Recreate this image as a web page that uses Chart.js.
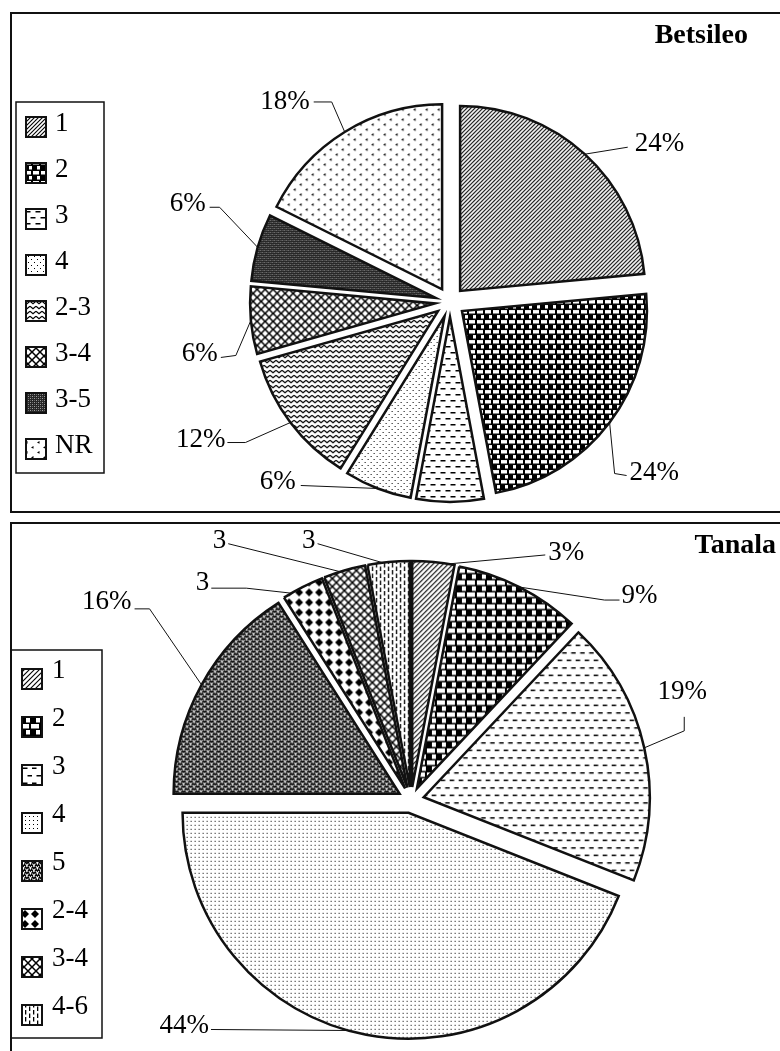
<!DOCTYPE html>
<html>
<head>
<meta charset="utf-8">
<script src="https://cdn.jsdelivr.net/npm/chart.js@4.4.1/dist/chart.umd.min.js"></script>
<style>
    html, body { margin: 0; padding: 0; background: #fff; }
    body { width: 780px; height: 1051px; position: relative; overflow: hidden; }
    .frame { position: absolute; border: 0 solid #111; }
    #frame-top { left: 10px; top: 12px; width: 780px; height: 497px; border-width: 2px 0 2px 2px; }
    #frame-bottom { left: 10px; top: 522px; width: 780px; height: 540px; border-width: 2px 0 0 2px; }
    canvas { position: absolute; left: 0; }
    #betsileo { top: 0; }
    #tanala { top: 519px; }
</style>
</head>
<body>
<div class="frame" id="frame-top"></div>
<div class="frame" id="frame-bottom"></div>
<canvas id="betsileo" width="780" height="512"></canvas>
<canvas id="tanala" width="780" height="532"></canvas>
<script>
// Betsileo
const betsileoCategories = ['1', '2', '3', '4', '2-3', '3-4', '3-5', 'NR'];
const betsileoValues = [24, 24, 6, 6, 12, 6, 6, 18];
const betsileoFillNames = ['hatch', 'brick', 'dash', 'dots', 'wave', 'cross', 'dark', 'chevron'];

// Tanala
const tanalaCategories = ['1', '2', '3', '4', '5', '2-4', '3-4', '4-6'];
const tanalaValues = [3, 9, 19, 44, 16, 3, 3, 3];
const tanalaSuffix = ['%', '%', '%', '%', '%', '', '', ''];
const tanalaFillNames = ['hatch', 'brick', 'dash', 'fineDots', 'squiggle', 'diamond', 'cross', 'vdash'];

const SERIF = '"Liberation Serif", "Times New Roman", serif';

// small repeating tiles, painted with wrap-around so the seams line up
function tile(w, h, paint) {
    const c = document.createElement('canvas');
    c.width = w;
    c.height = h;
    const g = c.getContext('2d');
    g.fillStyle = '#fff';
    g.fillRect(0, 0, w, h);
    for (const dx of [-w, 0, w]) {
        for (const dy of [-h, 0, h]) {
            g.save();
            g.translate(dx, dy);
            g.fillStyle = '#000';
            g.strokeStyle = '#000';
            paint(g);
            g.restore();
        }
    }
    return g.createPattern(c, 'repeat');
}

const patterns = {
    hatch: (s) => tile(s, s, g => {
        g.lineWidth = 1.1;
        g.beginPath(); g.moveTo(0, s); g.lineTo(s, 0); g.stroke();
    }),
    brick: (w, h) => tile(w, h, g => {
        g.fillRect(0, 0, w, h);
        g.fillStyle = '#fff';
        const bw = w - 2, bh = h / 2 - 1.5;
        g.fillRect(1, 1, bw, bh);
        g.fillRect(1 + w / 2, 1 + h / 2, bw, bh);
    }),
    dash: (w, h) => tile(w, h, g => {
        g.fillRect(0.5, 1, w / 2, 1.5);
        g.fillRect(0.5 + w / 2, 1 + h / 2, w / 2, 1.5);
    }),
    dots: () => tile(6, 6, g => {
        g.fillRect(1, 1, 1, 1);
        g.fillRect(4, 4, 1, 1);
    }),
    fineDots: () => tile(4, 4, g => {
        g.fillRect(1, 1, 1, 1);
    }),
    wave: () => tile(6, 5, g => {
        g.lineWidth = 1.2;
        g.beginPath(); g.moveTo(0, 1.2); g.lineTo(3, 3.8); g.lineTo(6, 1.2); g.stroke();
    }),
    cross: (s) => tile(s, s, g => {
        g.lineWidth = 1.5;
        g.beginPath();
        g.moveTo(0, 0); g.lineTo(s, s);
        g.moveTo(0, s); g.lineTo(s, 0);
        g.stroke();
    }),
    dark: () => tile(4, 4, g => {
        g.fillStyle = '#262626';
        g.fillRect(0, 0, 4, 4);
        g.fillStyle = 'rgba(255,255,255,0.55)';
        g.fillRect(0, 0, 1, 1);
        g.fillRect(2, 2, 1, 1);
        g.fillStyle = 'rgba(255,255,255,0.3)';
        g.fillRect(2, 0, 1, 1);
        g.fillRect(0, 2, 1, 1);
    }),
    chevron: () => tile(12, 10, g => {
        [[1, 1], [7, 6]].forEach(([x, y]) => {
            g.beginPath();
            g.moveTo(x + 2.5, y); g.lineTo(x, y + 1.4); g.lineTo(x + 2.5, y + 2.8);
            g.closePath(); g.fill();
        });
    }),
    squiggle: () => tile(7, 5, g => {
        g.lineWidth = 1.4;
        [[0, 1.3], [3.5, 3.8]].forEach(([x, y]) => {
            g.beginPath();
            g.moveTo(x, y + 0.8); g.lineTo(x + 1.2, y - 0.8); g.lineTo(x + 2.4, y + 0.8);
            g.lineTo(x + 3.6, y - 0.8); g.lineTo(x + 4.8, y + 0.8);
            g.stroke();
        });
    }),
    diamond: () => tile(10, 10, g => {
        g.beginPath();
        g.moveTo(5, 1); g.lineTo(9, 5); g.lineTo(5, 9); g.lineTo(1, 5);
        g.closePath(); g.fill();
    }),
    vdash: () => tile(8, 14, g => {
        g.fillRect(1, 1, 1.3, 4.5);
        g.fillRect(1, 8, 1.3, 4.5);
        g.fillRect(5, 4.5, 1.3, 4.5);
        g.fillRect(5, 11.5, 1.3, 4.5);
    })
};

const betsileoArgs = { hatch: [4], brick: [8, 10], dash: [10, 12], cross: [8] };
const tanalaArgs = { hatch: [5], brick: [10, 12], dash: [9, 15], cross: [8] };
const betsileoFills = betsileoFillNames.map(n => patterns[n](...(betsileoArgs[n] || [])));
const tanalaFills = tanalaFillNames.map(n => patterns[n](...(tanalaArgs[n] || [])));

// exploded pie: push every slice out along its mid angle, without growing it
const baseArcDraw = Chart.ArcElement.prototype.draw;
Chart.ArcElement.prototype.draw = function (ctx, area) {
    const shift = this.$shift || 0;
    const mid = (this.startAngle + this.endAngle) / 2;
    ctx.save();
    ctx.translate(Math.cos(mid) * shift, Math.sin(mid) * shift);
    baseArcDraw.call(this, ctx, area);
    ctx.restore();
};

function decorate(cfg) {
    return {
        id: 'decorate',
        beforeDatasetsDraw(chart) {
            chart.getDatasetMeta(0).data.forEach(arc => { arc.$shift = cfg.shift; });
        },
        afterDraw(chart) {
            const ctx = chart.ctx;
            const arcs = chart.getDatasetMeta(0).data;
            const fills = chart.data.datasets[0].backgroundColor;
            ctx.save();

            // title
            ctx.fillStyle = '#000';
            ctx.font = 'bold 28px ' + SERIF;
            ctx.textAlign = 'right';
            ctx.textBaseline = 'alphabetic';
            ctx.fillText(cfg.title, cfg.titleX, cfg.titleY);

            // leader lines + value labels
            ctx.font = '27px ' + SERIF;
            ctx.textBaseline = 'middle';
            ctx.lineWidth = 1;
            ctx.strokeStyle = '#111';
            arcs.forEach((arc, i) => {
                const lay = cfg.leaders[i];
                if (!lay) return;
                const { x, y, startAngle, endAngle, outerRadius } = arc.getProps(['x', 'y', 'startAngle', 'endAngle', 'outerRadius'], true);
                const mid = (startAngle + endAngle) / 2;
                const a = startAngle + lay.at * (endAngle - startAngle);
                const ax = x + Math.cos(mid) * cfg.shift + Math.cos(a) * outerRadius;
                const ay = y + Math.sin(mid) * cfg.shift + Math.sin(a) * outerRadius;
                ctx.beginPath();
                ctx.moveTo(ax, ay);
                lay.path.forEach(([dx, dy]) => ctx.lineTo(ax + dx, ay + dy));
                ctx.stroke();
                ctx.textAlign = lay.align;
                ctx.fillText(cfg.texts[i], ax + lay.text[0], ay + lay.text[1]);
            });

            // legend
            const L = cfg.legend;
            ctx.lineWidth = 1.5;
            ctx.strokeRect(L.x, L.y, L.w, L.h);
            ctx.textAlign = 'left';
            chart.data.labels.forEach((name, i) => {
                const cy = L.firstY + i * L.step;
                const sy = cy + L.swatchDy - 10;
                ctx.fillStyle = fills[i];
                ctx.fillRect(L.swatchX, sy, 20, 20);
                ctx.lineWidth = 2;
                ctx.strokeRect(L.swatchX, sy, 20, 20);
                ctx.fillStyle = '#000';
                ctx.fillText(name, L.textX, cy);
            });
            ctx.restore();
        }
    };
}

function pieChart(id, labels, values, fills, radius, padding, cfg) {
    return new Chart(document.getElementById(id), {
        type: 'pie',
        data: {
            labels: labels,
            datasets: [{
                data: values,
                backgroundColor: fills,
                borderColor: '#111',
                borderWidth: 2.5,
                borderJoinStyle: 'miter',
                radius: radius,
                clip: false
            }]
        },
        options: {
            responsive: false,
            animation: false,
            events: [],
            layout: { padding: padding },
            plugins: {
                legend: { display: false },
                tooltip: { enabled: false }
            }
        },
        plugins: [decorate(cfg)]
    });
}

pieChart('betsileo', betsileoCategories, betsileoValues, betsileoFills, 185,
    { left: 120, top: 92, right: 0, bottom: 0 },
    {
        title: 'Betsileo', titleX: 748, titleY: 43, shift: 15,
        texts: betsileoValues.map(v => v + '%'),
        leaders: [
            { at: 0.5, path: [[43, -7]], text: [50, -10], align: 'left' },
            { at: 0.5, path: [[5, 51], [17, 53]], text: [20, 50], align: 'left' },
            null,
            { at: 0.5, path: [[-77, -3]], text: [-82, -7], align: 'right' },
            { at: 0.5, path: [[-45, 20], [-63, 20]], text: [-65, 17], align: 'right' },
            { at: 0.5, path: [[-15, 35], [-30, 37]], text: [-33, 33], align: 'right' },
            { at: 0.5, path: [[-38, -40], [-48, -40]], text: [-52, -43], align: 'right' },
            { at: 0.5, path: [[-13, -30], [-31, -30]], text: [-35, -30], align: 'right' }
        ],
        legend: { x: 16, y: 102, w: 88, h: 371, firstY: 124, step: 46, swatchX: 26, swatchDy: 3, textX: 55 }
    });

pieChart('tanala', tanalaCategories, tanalaValues, tanalaFills, 226,
    { left: 42, top: 30, right: 0, bottom: 0 },
    {
        title: 'Tanala', titleX: 776, titleY: 34, shift: 13,
        texts: tanalaValues.map((v, i) => v + tanalaSuffix[i]),
        leaders: [
            { at: 0.85, path: [[97, -9]], text: [100, -11], align: 'left' },
            { at: 0.5, path: [[85, 13], [100, 13]], text: [102, 9], align: 'left' },
            { at: 0.5, path: [[40, -17], [40, -31]], text: [38, -56], align: 'center' },
            { at: 0.53, path: [[-137, -1]], text: [-139, -5], align: 'right' },
            { at: 0.5, path: [[-52, -76], [-67, -76]], text: [-70, -83], align: 'right' },
            { at: 0.2, path: [[-45, -5], [-80, -5]], text: [-82, -10], align: 'right' },
            { at: 0.4, path: [[-112, -28]], text: [-114, -31], align: 'right' },
            { at: 0.36, path: [[-65, -19]], text: [-67, -22], align: 'right' }
        ],
        legend: { x: 11, y: 131, w: 91, h: 388, firstY: 152, step: 48, swatchX: 22, swatchDy: 8, textX: 52 }
    });
</script>
</body>
</html>
